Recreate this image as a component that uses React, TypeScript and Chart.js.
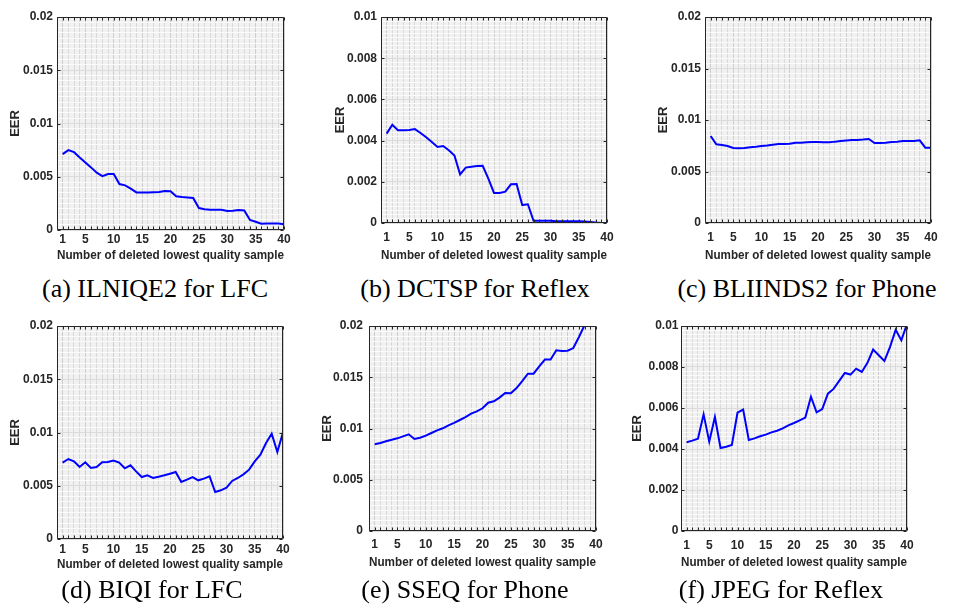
import React, { useEffect, useRef } from "react";
import { Chart, registerables } from "chart.js";
Chart.register(...registerables);

// ---------------- data ----------------
const samples = [1, 2, 3, 4, 5, 6, 7, 8, 9, 10, 11, 12, 13, 14, 15, 16, 17, 18, 19, 20, 21, 22, 23, 24, 25, 26, 27, 28, 29, 30, 31, 32, 33, 34, 35, 36, 37, 38, 39, 40];
const xTickLabels = [1, 5, 10, 15, 20, 25, 30, 35, 40];

const eerIlniqe2Lfc = [0.00713, 0.0075, 0.00731, 0.00681, 0.00634, 0.00588, 0.00538, 0.00506, 0.00525, 0.00525, 0.00431, 0.00419, 0.00388, 0.00353, 0.00353, 0.00353, 0.00355, 0.00356, 0.00366, 0.00363, 0.00316, 0.0031, 0.00306, 0.003, 0.00206, 0.00194, 0.0019, 0.0019, 0.0019, 0.00178, 0.00181, 0.00188, 0.00184, 0.00094, 0.00078, 0.00059, 0.0006, 0.0006, 0.0006, 0.00053];
const eerDctspReflex = [0.00434, 0.00477, 0.0045, 0.0045, 0.00451, 0.00456, 0.00437, 0.00416, 0.00393, 0.00369, 0.00374, 0.00353, 0.00328, 0.00236, 0.00269, 0.00273, 0.00277, 0.00278, 0.00215, 0.00146, 0.00146, 0.00152, 0.00188, 0.00189, 0.00087, 0.00091, 0.00011, 0.00011, 0.00011, 0.00011, 0.00008, 0.00008, 0.00008, 0.00008, 0.00008, 0.00007, 0.00005, 0.00002, 0, 0];
const eerBliinds2Phone = [0.00845, 0.00764, 0.00757, 0.00748, 0.00728, 0.00725, 0.00728, 0.00735, 0.0074, 0.00748, 0.00752, 0.0076, 0.00766, 0.00768, 0.0077, 0.0078, 0.00779, 0.00784, 0.00786, 0.00786, 0.00784, 0.00783, 0.0079, 0.00795, 0.008, 0.00805, 0.00806, 0.0081, 0.00816, 0.00777, 0.00777, 0.0078, 0.00786, 0.0079, 0.00796, 0.00796, 0.00796, 0.00803, 0.00731, 0.00731];
const eerBiqiLfc = [0.00717, 0.00751, 0.00729, 0.00676, 0.0072, 0.00667, 0.00676, 0.0072, 0.00723, 0.00736, 0.00717, 0.00664, 0.00692, 0.00635, 0.00582, 0.00598, 0.00573, 0.00585, 0.00598, 0.00613, 0.00629, 0.00535, 0.00557, 0.00582, 0.00551, 0.00567, 0.00588, 0.00441, 0.00457, 0.00482, 0.00545, 0.00573, 0.00607, 0.00651, 0.00729, 0.00792, 0.00901, 0.00989, 0.00817, 0.01002];
const eerSseqPhone = [0.00846, 0.00859, 0.00875, 0.00891, 0.00904, 0.00923, 0.00943, 0.00898, 0.0091, 0.0093, 0.00956, 0.00982, 0.01002, 0.01031, 0.01054, 0.01083, 0.01112, 0.01145, 0.01167, 0.01197, 0.01252, 0.01265, 0.01301, 0.01346, 0.01343, 0.01395, 0.01463, 0.01535, 0.01535, 0.01607, 0.01672, 0.01672, 0.01763, 0.01756, 0.01759, 0.01785, 0.01893, 0.0201, 0.0212, 0.0222];
const eerJpegReflex = [0.00433, 0.00441, 0.0045, 0.00569, 0.00436, 0.00556, 0.00405, 0.00411, 0.0042, 0.00577, 0.00592, 0.00444, 0.00452, 0.00462, 0.0047, 0.00481, 0.00489, 0.00501, 0.00515, 0.00527, 0.0054, 0.00553, 0.00655, 0.00579, 0.00595, 0.0067, 0.00693, 0.00732, 0.00771, 0.00763, 0.00792, 0.00776, 0.0082, 0.00885, 0.00857, 0.00829, 0.00898, 0.00982, 0.0093, 0.0101];

const captions = ["(a) ILNIQE2 for LFC", "(b) DCTSP for Reflex", "(c) BLIINDS2 for Phone", "(d) BIQI for LFC", "(e) SSEQ for Phone", "(f) JPEG for Reflex"];
const yMaxes = [0.02, 0.01, 0.02, 0.02, 0.02, 0.01];
const yMajorSteps = [0.005, 0.002, 0.005, 0.005, 0.005, 0.002];
const seriesList = [eerIlniqe2Lfc, eerDctspReflex, eerBliinds2Phone, eerBiqiLfc, eerSseqPhone, eerJpegReflex];

const xTitle = "Number of deleted lowest quality sample";
const yTitle = "EER";

// ---------------- layout (page pixels) ----------------
const panelLayouts = [
  { canvas: [0, 0, 318, 272], area: [57, 17, 284, 230], eerX: 15, xTitleY: 255, yPad: 4, xPad: 2, caption: [155, 289] },
  { canvas: [318, 0, 318, 272], area: [381, 17, 607, 223], eerX: 340, xTitleY: 255, yPad: 4, xPad: 7, caption: [475, 289] },
  { canvas: [636, 0, 318, 272], area: [705, 17, 931, 223], eerX: 663, xTitleY: 255, yPad: 4, xPad: 7, caption: [807, 289] },
  { canvas: [0, 310, 318, 272], area: [57, 326, 283, 539], eerX: 15, xTitleY: 564, yPad: 4, xPad: 3, caption: [152, 590] },
  { canvas: [318, 310, 318, 272], area: [369, 326, 596, 531], eerX: 327, xTitleY: 562, yPad: 6, xPad: 6, caption: [465, 590] },
  { canvas: [620, 310, 334, 272], area: [681, 326, 907, 531], eerX: 637, xTitleY: 562, yPad: 2.5, xPad: 7, caption: [781, 590] },
];

const AXIS_COLOR = "#262626";
const FONT = "'Liberation Sans', Arial, Helvetica, sans-serif";

function isMultiple(v: number, step: number) {
  const r = v / step;
  return Math.abs(r - Math.round(r)) < 1e-6;
}
function fmt(v: number) {
  if (Math.abs(v) < 1e-12) return "0";
  return String(parseFloat(v.toFixed(4)));
}

const boxPlugin = {
  id: "matlabBox",
  beforeDraw(chart: any) {
    const { ctx, chartArea } = chart;
    ctx.save();
    ctx.fillStyle = "#f1f1f1";
    ctx.fillRect(chartArea.left, chartArea.top, chartArea.right - chartArea.left, chartArea.bottom - chartArea.top);
    ctx.restore();
  },
  afterDraw(chart: any) {
    const { ctx, chartArea, scales } = chart;
    const l = Math.round(chartArea.left) + 0.5;
    const r = Math.round(chartArea.right) - 0.5;
    const t = Math.round(chartArea.top) + 0.5;
    const b = Math.round(chartArea.bottom) - 0.5;
    ctx.save();
    ctx.strokeStyle = AXIS_COLOR;
    ctx.lineWidth = 1;
    ctx.beginPath();
    ctx.rect(l, t, r - l, b - t);
    ctx.stroke();
    const tl = 3;
    ctx.beginPath();
    scales.x.ticks.forEach((tk: any) => {
      const px = Math.round(scales.x.getPixelForValue(tk.value)) + 0.5;
      ctx.moveTo(px, b);
      ctx.lineTo(px, b - tl);
      ctx.moveTo(px, t);
      ctx.lineTo(px, t + tl);
    });
    const major = chart.options.plugins.matlabBox.yMajor;
    scales.y.ticks.forEach((tk: any) => {
      if (!isMultiple(tk.value, major)) return;
      const py = Math.round(scales.y.getPixelForValue(tk.value)) + 0.5;
      ctx.moveTo(l, py);
      ctx.lineTo(l + tl, py);
      ctx.moveTo(r, py);
      ctx.lineTo(r - tl, py);
    });
    ctx.stroke();
    ctx.restore();
  },
};

function Panel({ index }: { index: number }) {
  const ref = useRef<HTMLCanvasElement | null>(null);
  const lay = panelLayouts[index];
  const [cl, ct, cw, ch] = lay.canvas;

  useEffect(() => {
    if (!ref.current) return;
    const [L, T, R, B] = lay.area;
    const yW = L - cl;
    const padTop = T - ct;
    const padRight = cl + cw - R;
    const xH = ct + ch - B;
    const titleLH = 13 * 1.2;
    const yTitlePad = lay.eerX - cl - titleLH / 2;
    const xTitlePad = ct + ch - lay.xTitleY - titleLH / 2;
    const yMax = yMaxes[index];
    const yMajor = yMajorSteps[index];
    const yMinor = yMajor / 10;
    const values = seriesList[index];

    const chart = new Chart(ref.current, {
      type: "line",
      data: {
        datasets: [
          {
            data: samples.map((x, i) => ({ x, y: values[i] })),
            borderColor: "#0000ff",
            borderWidth: 2,
            pointRadius: 0,
            tension: 0,
            fill: false,
          },
        ],
      },
      options: {
        animation: false,
        responsive: false,
        devicePixelRatio: 1,
        layout: { padding: { top: padTop, right: padRight, left: 0, bottom: 0 } },
        plugins: {
          legend: { display: false },
          tooltip: { enabled: false },
          matlabBox: { yMajor },
        } as any,
        scales: {
          x: {
            type: "linear",
            min: 0,
            max: 40,
            afterBuildTicks: (s: any) => {
              const arr = [];
              for (let v = 0; v <= 40; v++) arr.push({ value: v });
              s.ticks = arr;
            },
            afterFit: (s: any) => {
              s.height = xH;
            },
            ticks: {
              autoSkip: false,
              maxRotation: 0,
              padding: lay.xPad,
              color: AXIS_COLOR,
              font: { family: FONT, size: 12, weight: "bold" },
              callback: (v: any) => (xTickLabels.includes(Number(v)) ? String(v) : ""),
            },
            grid: {
              drawTicks: false,
              color: (c: any) => (xTickLabels.includes(c.tick?.value) ? "#cdcdcd" : "#d9d9d9"),
              lineWidth: 1,
            },
            border: { display: false },
            title: {
              display: true,
              text: xTitle,
              color: AXIS_COLOR,
              font: { family: FONT, size: 13, weight: "bold" },
              padding: { top: 0, bottom: xTitlePad },
            },
          },
          y: {
            type: "linear",
            min: 0,
            max: yMax,
            afterBuildTicks: (s: any) => {
              const arr = [];
              const n = Math.round(yMax / yMinor);
              for (let k = 0; k <= n; k++) arr.push({ value: parseFloat((k * yMinor).toFixed(6)) });
              s.ticks = arr;
            },
            afterFit: (s: any) => {
              s.width = yW;
            },
            ticks: {
              autoSkip: false,
              padding: lay.yPad,
              color: AXIS_COLOR,
              font: { family: FONT, size: 12, weight: "bold" },
              callback: (v: any) => (isMultiple(Number(v), yMajor) ? fmt(Number(v)) : ""),
            },
            grid: {
              drawTicks: false,
              color: (c: any) => (isMultiple(c.tick?.value ?? 0, yMajor) ? "#dcdcdc" : "#fbfbfb"),
              lineWidth: 1,
            },
            border: { display: false },
            title: {
              display: true,
              text: yTitle,
              color: AXIS_COLOR,
              font: { family: FONT, size: 13, weight: "bold" },
              padding: { top: yTitlePad, bottom: 0 },
            },
          },
        },
      } as any,
      plugins: [boxPlugin],
    });
    return () => chart.destroy();
  }, [index]);

  return (
    <canvas
      ref={ref}
      width={cw}
      height={ch}
      style={{ position: "absolute", left: cl, top: ct, width: cw, height: ch }}
    />
  );
}

export default function App() {
  return (
    <div style={{ position: "absolute", left: 0, top: 0, width: 954, height: 611, background: "#ffffff", overflow: "hidden" }}>
      {panelLayouts.map((_, i) => (
        <Panel key={"p" + i} index={i} />
      ))}
      {panelLayouts.map((lay, i) => (
        <div
          key={"c" + i}
          style={{
            position: "absolute",
            left: lay.caption[0] - 170,
            top: lay.caption[1] - 15,
            width: 340,
            height: 30,
            lineHeight: "30px",
            textAlign: "center",
            fontFamily: "'Liberation Serif', 'Times New Roman', serif",
            fontSize: 26,
            color: "#000",
            whiteSpace: "nowrap",
          }}
        >
          {captions[i]}
        </div>
      ))}
    </div>
  );
}
